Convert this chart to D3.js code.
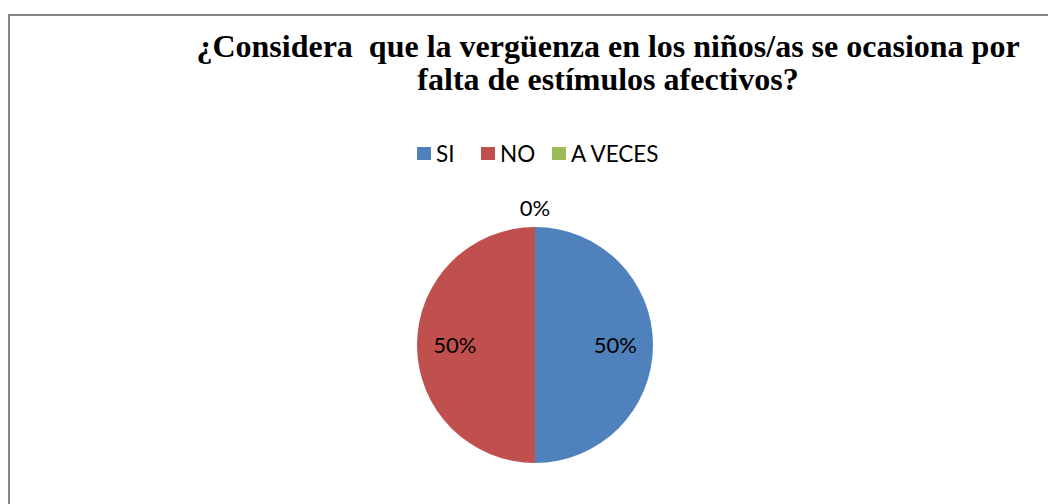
<!DOCTYPE html>
<html>
<head>
<meta charset="utf-8">
<script src="https://cdn.jsdelivr.net/npm/d3@7"></script>
<style>
  body { margin: 0; background: #fff; }
</style>
</head>
<body>
<div id="chart"></div>
<script>
let categories = ["SI", "NO", "A VECES"];
let values = [50, 50, 0];
let colors = ["#4F81BD", "#C0504D", "#9BBB59"];
let titleLines = ["¿Considera  que la vergüenza en los niños/as se ocasiona por", "falta de estímulos afectivos?"];

let width = 1048, height = 504;
let cx = 535, cy = 345, radius = 118;

let svg = d3.select('#chart')
    .append('svg')
        .attr('width', width)
        .attr('height', height);

// chart frame (only top and left edges are visible)
svg.append('rect')
    .attr('x', 9).attr('y', 15)
    .attr('width', width + 20).attr('height', height + 20)
    .attr('fill', 'none')
    .attr('stroke', '#868686')
    .attr('stroke-width', 2);

svg.selectAll('text.title')
    .data(titleLines)
    .enter().append('text')
        .attr('class', 'title')
        .attr('x', 608)
        .attr('y', (d, i) => 57 + i * 33)
        .attr('text-anchor', 'middle')
        .style('font-family', '"Liberation Serif", "Times New Roman", serif')
        .style('font-weight', 'bold')
        .style('font-size', '32px')
        .style('white-space', 'pre')
        .text(d => d);

// legend
let legendX = [417, 481, 552];
let legend = svg.selectAll('g.legend')
    .data(categories)
    .enter().append('g')
        .attr('class', 'legend')
        .attr('transform', (d, i) => 'translate(' + legendX[i] + ',154)');
legend.append('rect')
    .attr('x', 0).attr('y', -7)
    .attr('width', 14).attr('height', 13)
    .attr('fill', (d, i) => colors[i]);
legend.append('text')
    .attr('x', 19).attr('y', 8)
    .style('font-family', 'Lato, "Open Sans", sans-serif')
    .style('font-size', '22.5px')
    .text(d => d);

let pie = d3.pie().sort(null).value(d => d);
let arcs = pie(values);
let arc = d3.arc().innerRadius(0).outerRadius(radius);
let inner = d3.arc().innerRadius(radius * 0.68).outerRadius(radius * 0.68);
let outer = d3.arc().innerRadius(radius + 19).outerRadius(radius + 19);

let g = svg.append('g').attr('transform', 'translate(' + cx + ',' + cy + ')');
g.selectAll('path')
    .data(arcs)
    .enter().append('path')
        .attr('d', arc)
        .attr('fill', (d, i) => colors[i]);

g.selectAll('text.lbl')
    .data(arcs)
    .enter().append('text')
        .attr('class', 'lbl')
        .attr('transform', d => 'translate(' + (d.data > 0 ? inner : outer).centroid(d) + ')')
        .attr('text-anchor', 'middle')
        .attr('dy', '0.35em')
        .style('font-family', 'Lato, "Open Sans", sans-serif')
        .style('font-size', '22px')
        .text(d => d3.format('.0%')(d.data / d3.sum(values)));
</script>
</body>
</html>
